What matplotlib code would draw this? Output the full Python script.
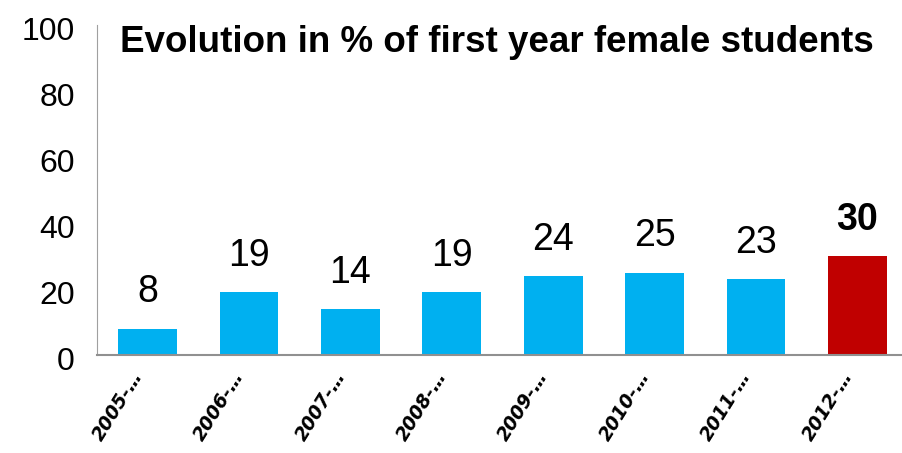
import matplotlib.pyplot as plt
import matplotlib.transforms as mtransforms
from matplotlib import font_manager

years = ["2005-…", "2006-…", "2007-…", "2008-…", "2009-…", "2010-…", "2011-…", "2012-…"]
values = [8, 19, 14, 19, 24, 25, 23, 30]
colors = ["#00B0F0"] * 7 + ["#C00000"]
yticks = [0, 20, 40, 60, 80, 100]

names = {f.name for f in font_manager.fontManager.ttflist}
narrow = "Liberation Sans Narrow" if "Liberation Sans Narrow" in names else "Liberation Sans"

fig = plt.figure(figsize=(9.03, 4.53), dpi=100)
ax = fig.add_axes([97 / 903, 1 - 355 / 453, (903 - 97) / 903, 330 / 453])

x = range(len(years))
ax.bar(x, values, width=0.58, color=colors, zorder=2)

for i, v in enumerate(values):
    last = i == len(values) - 1
    ax.text(i, v + 5.5, str(v), ha="center", va="bottom",
            fontsize=27, family=narrow,
            fontweight="bold" if last else "normal",
            color="black")

ax.set_xlim(-0.5, 7.45)
ax.set_ylim(0, 100)
ax.set_yticks(yticks)
ax.set_yticklabels([str(t) for t in yticks], fontsize=23, family=narrow)
ax.set_xticks(list(x))
ax.set_xticklabels(years, rotation=58, ha="right", rotation_mode="anchor",
                   fontsize=13.5, fontweight="bold", fontstyle="italic")
ax.tick_params(axis="both", length=0)
ax.tick_params(axis="y", pad=16)
ax.tick_params(axis="x", pad=9)
shift = mtransforms.ScaledTranslation(-17 / 100, 0, fig.dpi_scale_trans)
for lab in ax.get_xticklabels():
    lab.set_transform(lab.get_transform() + shift)
for lab in ax.get_yticklabels():
    lab.set_transform(lab.get_transform() + mtransforms.ScaledTranslation(0, -4 / 100, fig.dpi_scale_trans))

for s in ["top", "right"]:
    ax.spines[s].set_visible(False)
ax.spines["left"].set_color("#A0A0A0")
ax.spines["bottom"].set_color("#909090")
ax.spines["bottom"].set_linewidth(1.5)

fig.text(120 / 903, 1 - 42 / 453, "Evolution in % of first year female students",
         fontsize=26.5, fontweight="bold", family=narrow, va="center", ha="left")

fig.savefig("out.png", dpi=100)
